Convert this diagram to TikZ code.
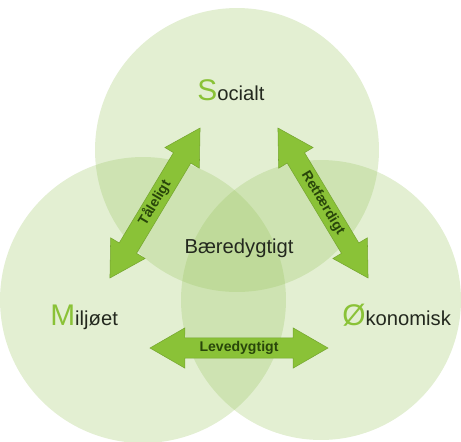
\documentclass[tikz,border=0pt]{standalone}
\usepackage{fontspec}
\setmainfont{Liberation Sans}
\usetikzlibrary{shapes.arrows}
\definecolor{leaf}{RGB}{138,194,55}
\definecolor{ringgreen}{RGB}{150,195,90}
\definecolor{darkleaf}{RGB}{40,70,10}
\definecolor{ink}{RGB}{35,40,30}
\newcommand{\bigltr}[1]{{\color{leaf}\fontsize{17}{17}\selectfont #1}}

\begin{document}
\begin{tikzpicture}[x=0.02cm,y=-0.02cm,
  ring/.style={fill=ringgreen,fill opacity=0.27},
  dblarrow/.style={double arrow,fill=leaf,draw=leaf!85!black,line width=0.3pt,text=darkleaf,
    font=\bfseries\fontsize{8}{9}\selectfont,inner xsep=0pt,inner ysep=1.6pt,text height=6.2pt,text depth=1.8pt,
    double arrow head extend=0.2cm,double arrow tip angle=60},
  word/.style={anchor=base west,text=ink,font=\fontsize{11.5}{12}\selectfont,inner sep=0pt}]
\useasboundingbox (0,0) rectangle (461,441);
\clip (0,0) rectangle (461,441);
% the three circles
\fill[ring] (237,150) circle[radius=2.84cm];
\fill[ring] (143,300) circle[radius=2.86cm];
\fill[ring] (321,300) circle[radius=2.8cm];
% arrows between the circles
\node[dblarrow,minimum height=3.5cm,rotate=59] (tal) at (155,203) {Tåleligt};
\node[dblarrow,minimum height=3.5cm,rotate=-59] (ret) at (323,203) {Retfærdigt};
\node[dblarrow,minimum height=3.56cm] (lev) at (239,348) {Levedygtigt};
% labels
\node[word] (soc) at (197,100) {\bigltr{S}ocialt};
\node[word] (mil) at (50,325) {\bigltr{M}iljøet};
\node[word] (oko) at (342,325) {\bigltr{Ø}konomisk};
\node[word,anchor=base] (bae) at (239,253) {Bæredygtigt};
\end{tikzpicture}
\end{document}
